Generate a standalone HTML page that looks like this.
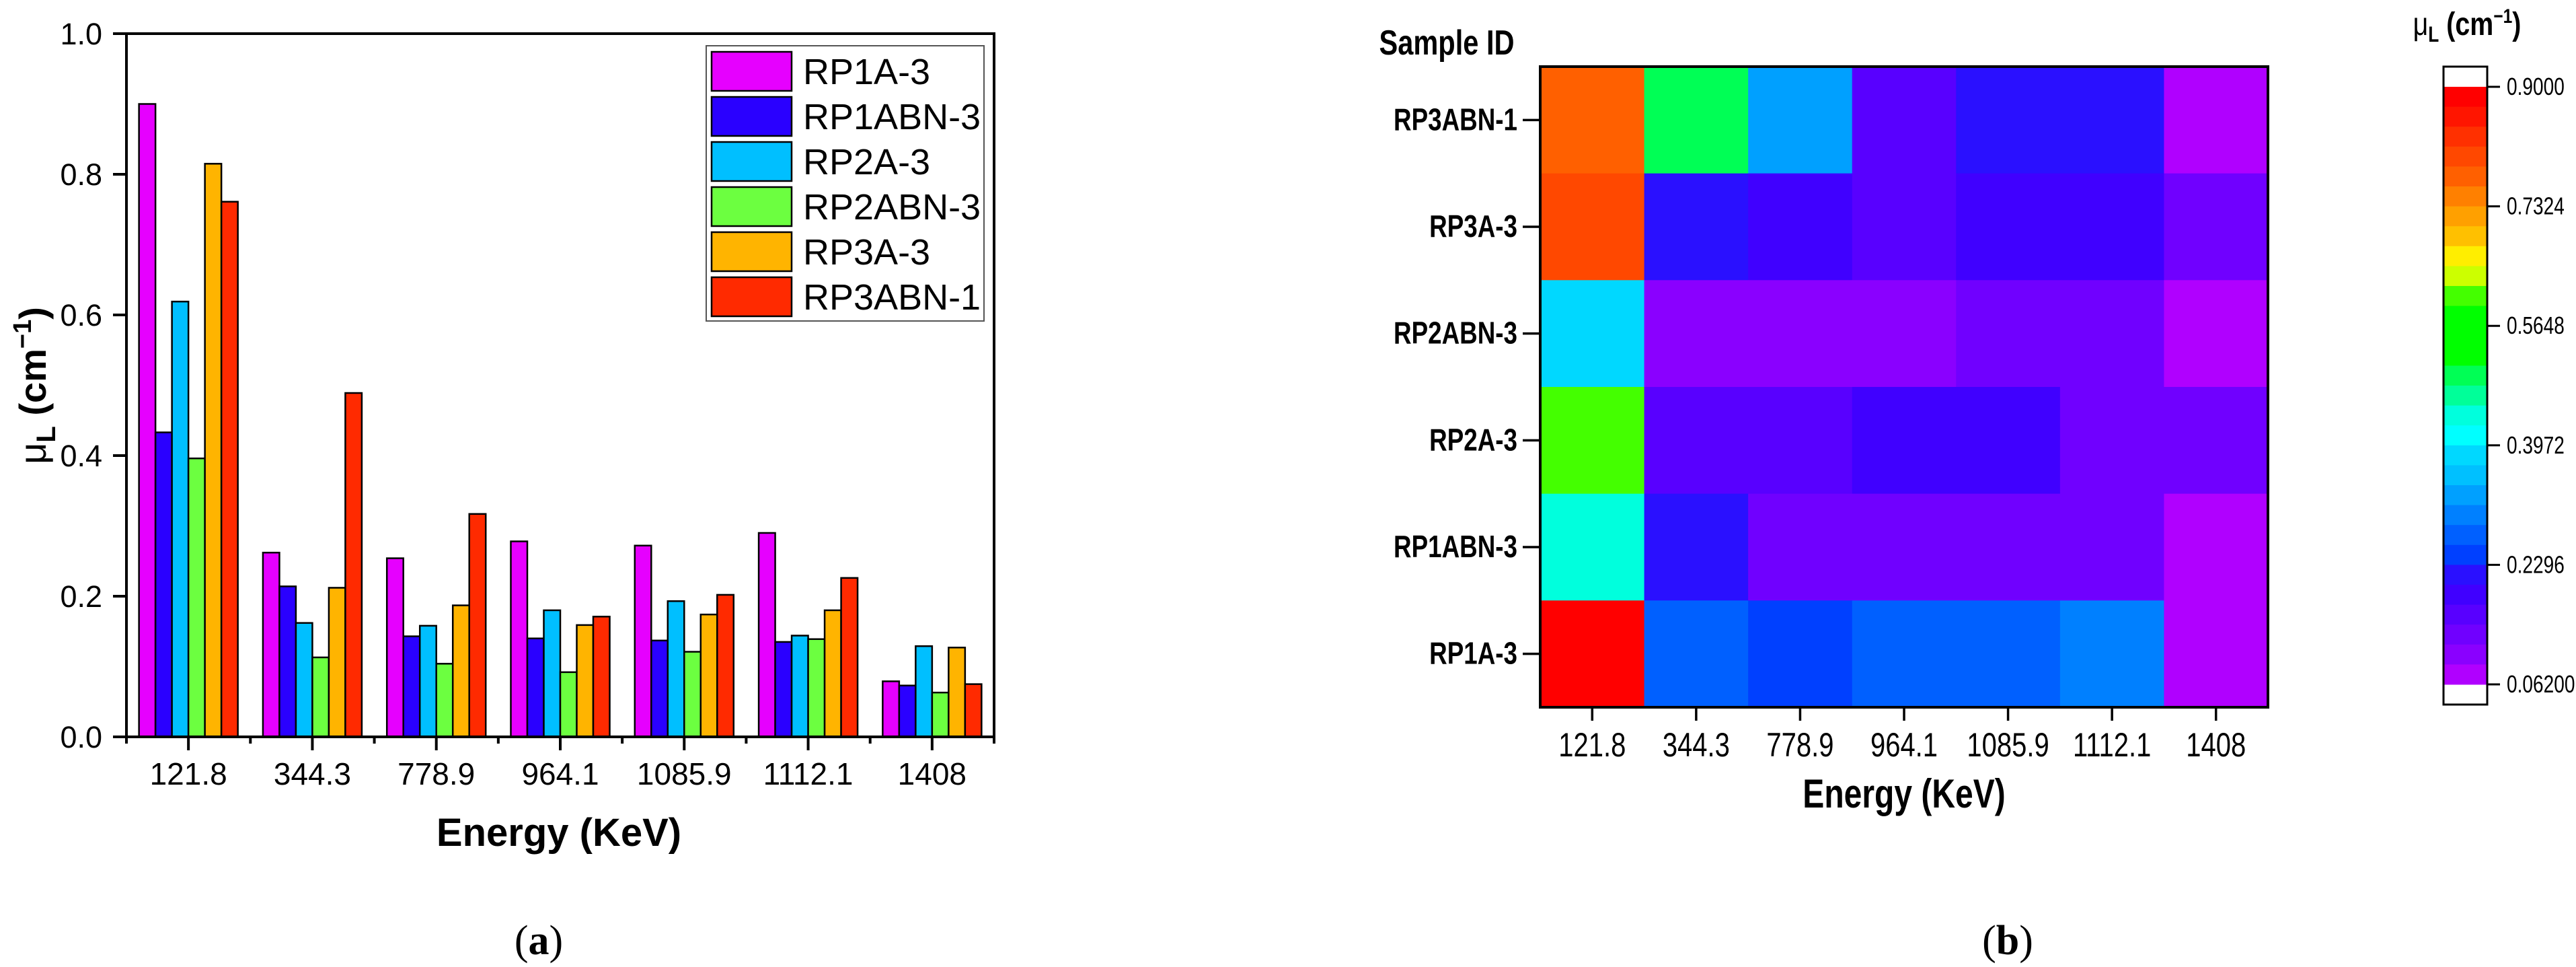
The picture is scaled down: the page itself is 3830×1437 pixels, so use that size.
<!DOCTYPE html>
<html><head><meta charset="utf-8">
<style>
html,body{margin:0;padding:0;background:#fff;}
svg{display:block;}
.t{font-family:"Liberation Sans",sans-serif;}
.n{font-family:"Liberation Sans",sans-serif;}
</style></head>
<body>
<svg id="fig" width="3830" height="1437" viewBox="0 0 3830 1437" xmlns="http://www.w3.org/2000/svg">
<g id="barChart"></g>
<g id="heatChart"></g>
<text x="801" y="1418" text-anchor="middle" font-family="Liberation Serif,serif" font-size="62">(<tspan font-weight="bold">a</tspan>)</text>
<text x="2985" y="1418" text-anchor="middle" font-family="Liberation Serif,serif" font-size="62">(<tspan font-weight="bold">b</tspan>)</text>
</svg>
<script>
const categories = ["121.8","344.3","778.9","964.1","1085.9","1112.1","1408"];
const seriesNames = ["RP1A-3","RP1ABN-3","RP2A-3","RP2ABN-3","RP3A-3","RP3ABN-1"];
const seriesColors = ["#e600ff","#2a00ff","#00bfff","#6cff40","#ffb400","#ff2a00"];
const rp1a3   = [0.900,0.262,0.254,0.278,0.272,0.290,0.079];
const rp1abn3 = [0.433,0.214,0.143,0.140,0.137,0.135,0.073];
const rp2a3   = [0.619,0.162,0.158,0.180,0.193,0.144,0.129];
const rp2abn3 = [0.396,0.113,0.104,0.092,0.121,0.139,0.063];
const rp3a3   = [0.815,0.212,0.187,0.159,0.174,0.180,0.127];
const rp3abn1 = [0.761,0.489,0.317,0.171,0.202,0.226,0.075];
const yTicks = ["0.0","0.2","0.4","0.6","0.8","1.0"];
const heatRows = ["RP3ABN-1","RP3A-3","RP2ABN-3","RP2A-3","RP1ABN-3","RP1A-3"];
const cbTicks = ["0.06200","0.2296","0.3972","0.5648","0.7324","0.9000"];
const cbColorsTopDown = ["#ff0000","#ff1500","#ff3000","#ff4800","#ff6000","#ff8000","#ffa000","#ffc000","#ffee00","#ccff00","#44ff00","#00ff00","#00ff00","#00ff00","#00ff55","#00ff99","#00ffdd","#00ffff","#00d8ff","#00c0ff","#00a0ff","#0080ff","#0060ff","#0040ff","#2a10ff","#4000ff","#5800ff","#7000ff","#8a00ff","#b000ff"];

const NS="http://www.w3.org/2000/svg";
function mk(tag,attrs,parent,text){const e=document.createElementNS(NS,tag);for(const k in attrs)e.setAttribute(k,attrs[k]);if(text!==undefined)e.textContent=text;parent.appendChild(e);return e;}
function narrow(x,y,sx,attrs,parent,text){const a=Object.assign({x:0,y:0,class:'n',transform:'translate('+x+','+y+') scale('+sx+',1)'},attrs);return mk('text',a,parent,text);}
const series=[rp1a3,rp1abn3,rp2a3,rp2abn3,rp3a3,rp3abn1];

// ---------- bar chart ----------
const bc=document.getElementById('barChart');
const L=188,R=1478,T=50,B=1095;
const band=(R-L)/categories.length;
const yS=v=>B-(v/1.0)*(B-T);
const xC=i=>L+band*(i+0.5);
const barW=24.5;
for(let s=0;s<series.length;s++){
  for(let i=0;i<categories.length;i++){
    const x=xC(i)-3*barW+s*barW, y=yS(series[s][i]);
    const r=mk('rect',{x:x,y:y,width:barW,height:B-y,fill:seriesColors[s],stroke:'#000','stroke-width':2.5},bc);
    
    
  }
}
const frame=mk('rect',{x:L,y:T,width:R-L,height:B-T,fill:'none',stroke:'#000','stroke-width':4},bc);


for(let i=0;i<yTicks.length;i++){
  const v=parseFloat(yTicks[i]),y=yS(v);
  mk('line',{x1:L-20,x2:L,y1:y,y2:y,stroke:'#000','stroke-width':4},bc);
  const t=mk('text',{x:L-36,y:y+16,'text-anchor':'end','font-size':45,class:'t'},bc,yTicks[i]);
  
  
}
for(let i=0;i<categories.length;i++){
  mk('line',{x1:xC(i),x2:xC(i),y1:B,y2:B+20,stroke:'#000','stroke-width':4},bc);
  mk('line',{x1:L+band*i,x2:L+band*i,y1:B,y2:B+10,stroke:'#000','stroke-width':4},bc);
  const t=mk('text',{x:xC(i),y:1166,'text-anchor':'middle','font-size':46,class:'t'},bc,categories[i]);
  
  
}
mk('line',{x1:R,x2:R,y1:B,y2:B+10,stroke:'#000','stroke-width':4},bc);
const xt=mk('text',{x:831,y:1257,'text-anchor':'middle','font-size':58,'font-weight':'bold',class:'t'},bc,'Energy (KeV)');


const yt=mk('text',{x:0,y:0,'text-anchor':'middle','font-size':56,'font-weight':'bold',class:'t',transform:'translate(68,573) rotate(-90)'},bc);


mk('tspan',{'font-weight':'normal'},yt,'μ');
mk('tspan',{dy:14,'font-size':40},yt,'L');
mk('tspan',{dy:-14},yt,' (cm');
mk('tspan',{dy:-22,'font-size':38},yt,'−1');
mk('tspan',{dy:22},yt,')');
// legend
const lg=mk('g',{},bc);


mk('rect',{x:1050,y:68,width:413,height:409,fill:'#fff',stroke:'#555','stroke-width':2},lg);
for(let s=0;s<seriesNames.length;s++){
  const y=77+s*67;
  const sw=mk('rect',{x:1058,y:y,width:119,height:58,fill:seriesColors[s],stroke:'#000','stroke-width':2.5},lg);
  
  
  const t=mk('text',{x:1194,y:y+48,'font-size':54,class:'t'},lg,seriesNames[s]);
  
  
}

// ---------- heatmap ----------
const hc=document.getElementById('heatChart');
const HL=2290,HR=3372,HT=99,HB=1051;
const cw=(HR-HL)/categories.length, ch=(HB-HT)/heatRows.length;
const vmin=0.062,vmax=0.9,nb=cbColorsTopDown.length;
function colorOf(v){let k=Math.floor((v-vmin)/(vmax-vmin)*nb);k=Math.max(0,Math.min(nb-1,k));return cbColorsTopDown[nb-1-k];}
for(let r=0;r<heatRows.length;r++){
  const sIdx=seriesNames.indexOf(heatRows[r]);
  for(let c=0;c<categories.length;c++){
    const cell=mk('rect',{x:HL+c*cw,y:HT+r*ch,width:cw+0.5,height:ch+0.5,fill:colorOf(series[sIdx][c])},hc);
    
    
  }
  const y=HT+(r+0.5)*ch;
  mk('line',{x1:HL-26,x2:HL,y1:y,y2:y,stroke:'#000','stroke-width':3.5},hc);
  const t=narrow(HL-34,y+15,0.8,{'text-anchor':'end','font-size':46,'font-weight':'bold'},hc,heatRows[r]);
  
  
}
const hf=mk('rect',{x:HL,y:HT,width:HR-HL,height:HB-HT,fill:'none',stroke:'#000','stroke-width':4},hc);


for(let c=0;c<categories.length;c++){
  const x=HL+(c+0.5)*cw;
  mk('line',{x1:x,x2:x,y1:HB,y2:HB+20,stroke:'#000','stroke-width':3.5},hc);
  const t=narrow(x,1124,0.8,{'text-anchor':'middle','font-size':50},hc,categories[c]);
  
  
}
const hx=narrow(2831,1200,0.8,{'text-anchor':'middle','font-size':60,'font-weight':'bold'},hc,'Energy (KeV)');


const sid=narrow(2151,81,0.8,{'text-anchor':'middle','font-size':52,'font-weight':'bold'},hc,'Sample ID');


// colorbar
const CL=3633,CR=3698,CT=99,CB=1047,c0=1017,c1=129;
const cb=mk('g',{},hc);


const bh=(c0-c1)/nb;
for(let i=0;i<nb;i++){
  mk('rect',{x:CL,y:c1+i*bh,width:CR-CL,height:bh+0.5,fill:cbColorsTopDown[i]},cb);
}
mk('rect',{x:CL,y:CT,width:CR-CL,height:CB-CT,fill:'none',stroke:'#000','stroke-width':3},cb);
for(let i=0;i<cbTicks.length;i++){
  const v=parseFloat(cbTicks[i]);const y=c0-(v-vmin)/(vmax-vmin)*(c0-c1);
  mk('line',{x1:CR,x2:CR+19,y1:y,y2:y,stroke:'#000','stroke-width':3},cb);
  const t=narrow(3727,y+12,0.78,{'font-size':36},cb,cbTicks[i]);
  
  
}
const ct=narrow(3668,52,0.82,{'text-anchor':'middle','font-size':48,'font-weight':'bold'},hc);


mk('tspan',{'font-weight':'normal'},ct,'μ');
mk('tspan',{dy:10,'font-size':32},ct,'L');
mk('tspan',{dy:-10},ct,' (cm');
mk('tspan',{dy:-18,'font-size':30},ct,'−1');
mk('tspan',{dy:18},ct,')');
</script>
</body></html>
